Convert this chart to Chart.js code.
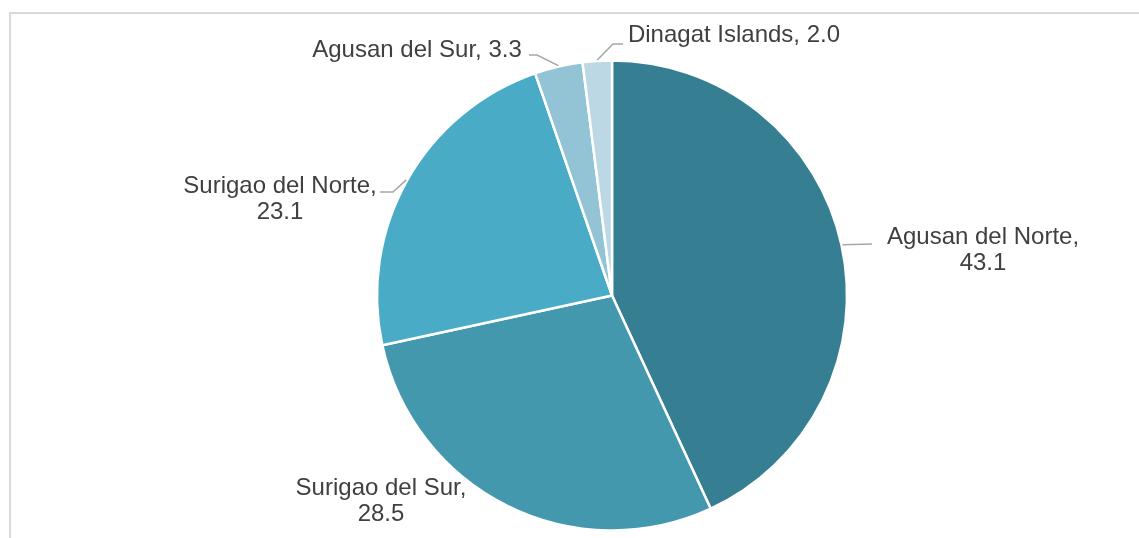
<!DOCTYPE html>
<html>
<head>
<meta charset="utf-8">
<script src="https://cdn.jsdelivr.net/npm/chart.js@4"></script>
<style>
  html, body { margin: 0; padding: 0; background: #fff; overflow: hidden; }
  #wrap { position: relative; width: 1139px; height: 538px; }
  #frame { position: absolute; left: 9px; top: 12px; width: 1200px; height: 600px;
           border-top: 2px solid #d9d9d9; border-left: 2px solid #d9d9d9; }
  canvas { position: absolute; left: 0; top: 0; }
</style>
</head>
<body>
<div id="wrap">
  <div id="frame"></div>
  <canvas id="chart" width="1139" height="538"></canvas>
</div>
<script>
// Share by province (percent)
const provinces = ['Agusan del Norte', 'Surigao del Sur', 'Surigao del Norte', 'Agusan del Sur', 'Dinagat Islands'];
const shares = [43.1, 28.5, 23.1, 3.3, 2.0];
const sliceColors = ['#367f93', '#4398ae', '#4aabc6', '#93c4d5', '#bcd8e4'];

// where each label sits and how its leader line bends (pixels)
const labelLayout = [
    { x: 983, y: 237, twoLines: true, leader: [[872, 244]] },
    { x: 381, y: 488, twoLines: true, leader: null },
    { x: 280, y: 186, twoLines: true, leader: [[393, 192], [380, 192]] },
    { x: 417, y: 50, twoLines: false, leader: [[537, 55], [529, 55]] },
    { x: 734, y: 35, twoLines: false, leader: [[613, 44], [623, 44]] }
];

const labelPlugin = {
    id: 'pieLabels',
    afterDraw(chart) {
        const ctx = chart.ctx;
        const arcs = chart.getDatasetMeta(0).data;
        ctx.save();
        ctx.font = '24px "Liberation Sans", Arial, sans-serif';
        ctx.fillStyle = '#404040';
        ctx.textAlign = 'center';
        ctx.textBaseline = 'middle';
        arcs.forEach((arc, i) => {
            const lay = labelLayout[i];
            const name = provinces[i] + ',';
            const val = shares[i].toFixed(1);
            if (lay.leader) {
                const p = arc.getProps(['x', 'y', 'startAngle', 'endAngle', 'outerRadius'], true);
                const mid = (p.startAngle + p.endAngle) / 2;
                ctx.beginPath();
                ctx.strokeStyle = '#a6a6a6';
                ctx.lineWidth = 1.5;
                ctx.moveTo(p.x + Math.cos(mid) * (p.outerRadius + 1), p.y + Math.sin(mid) * (p.outerRadius + 1));
                lay.leader.forEach(pt => ctx.lineTo(pt[0], pt[1]));
                ctx.stroke();
            }
            if (lay.twoLines) {
                ctx.fillText(name, lay.x, lay.y);
                ctx.fillText(val, lay.x, lay.y + 26);
            } else {
                ctx.fillText(name + ' ' + val, lay.x, lay.y);
            }
        });
        ctx.restore();
    }
};

new Chart(document.getElementById('chart').getContext('2d'), {
    type: 'pie',
    data: {
        labels: provinces,
        datasets: [{
            data: shares,
            backgroundColor: sliceColors,
            borderColor: '#ffffff',
            borderWidth: 2.5
        }]
    },
    options: {
        responsive: false,
        animation: false,
        radius: 235,
        layout: { padding: { left: 85, right: 0, top: 53, bottom: 0 } },
        plugins: {
            legend: { display: false },
            tooltip: { enabled: false }
        }
    },
    plugins: [labelPlugin]
});
</script>
</body>
</html>
